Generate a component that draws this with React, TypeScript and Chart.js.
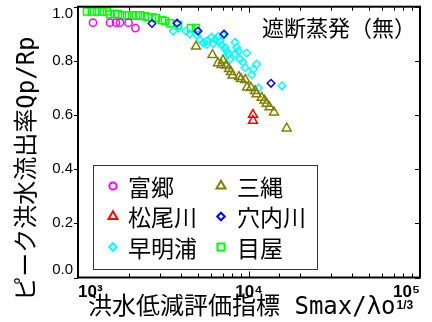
import React, { useEffect, useRef } from 'react';
import { Chart, registerables } from 'chart.js';

Chart.register(...registerables);

// ---------------- data ----------------
const seriesNames = ['富郷', '三縄', '松尾川', '穴内川', '早明浦', '目屋'];

const fugoX = [1224, 1539, 1668, 1760, 1974, 2169];
const fugoY = [0.941, 0.941, 0.941, 0.941, 0.941, 0.921];

const sanawaX = [4898, 6115, 6587, 7046, 6905, 7337, 7638, 7847, 8007, 8738, 8977, 9515, 9734, 10273, 10842, 11064, 11866, 12322, 12692, 13180, 14004, 16616];
const sanawaY = [0.853, 0.822, 0.792, 0.802, 0.785, 0.783, 0.770, 0.759, 0.746, 0.741, 0.733, 0.730, 0.702, 0.700, 0.689, 0.677, 0.664, 0.654, 0.642, 0.629, 0.610, 0.551];

const matsuoX = [10554, 10554];
const matsuoY = [0.601, 0.579];

const anaiX = [2708, 3793, 5032, 7141, 13447];
const anaiY = [0.938, 0.939, 0.910, 0.899, 0.717];

const sameuraX = [3609, 3845, 4280, 4519, 4945, 5170, 5405, 5657, 5657, 6050, 6182, 6326, 6613, 6766, 6923, 7074, 7238, 7406, 7567, 7743, 8284, 8476, 8284, 8659, 8861, 9694, 9188, 9476, 11092, 10595, 10370, 11365, 15600];
const sameuraY = [0.910, 0.921, 0.910, 0.899, 0.895, 0.877, 0.867, 0.873, 0.861, 0.888, 0.864, 0.879, 0.890, 0.873, 0.858, 0.894, 0.849, 0.836, 0.824, 0.806, 0.869, 0.849, 0.825, 0.836, 0.806, 0.829, 0.796, 0.775, 0.788, 0.769, 0.749, 0.700, 0.708];

const meyaX = [1129, 1207, 1292, 1382, 1478, 1539, 1646, 1714, 1809, 1934, 2069, 2184, 2305, 2465, 2567, 2708, 2858, 3099, 3228, 3452, 3845, 4579, 4898];
const meyaY = [0.982, 0.982, 0.982, 0.982, 0.982, 0.972, 0.974, 0.972, 0.968, 0.968, 0.968, 0.968, 0.968, 0.965, 0.961, 0.961, 0.958, 0.951, 0.947, 0.939, 0.932, 0.921, 0.921];

const seriesX = [fugoX, sanawaX, matsuoX, anaiX, sameuraX, meyaX];
const seriesY = [fugoY, sanawaY, matsuoY, anaiY, sameuraY, meyaY];

const xMin = 1000;
const xMax = 100000;
const yMin = 0;
const yMax = 1;
const yStep = 0.2;
const supDigits = ['⁰', '¹', '²', '³', '⁴', '⁵', '⁶'];

const yTitle = 'ピーク洪水流出率Qp/Rp';
const xTitle = '洪水低減評価指標 Smax/λo';
const xTitleSup = '1/3';
const noteText = '遮断蒸発（無）';

// ---------------- styles ----------------
const seriesColors = ['#ff00ff', '#808000', '#ff0000', '#0000ff', '#00ffff', '#00ff00'];
const seriesShapes = ['circle', 'triangle', 'triangle', 'rectRot', 'rectRot', 'rect'];
const seriesRadius = [3.6, 5.2, 5.2, 3.8, 3.8, 5];

const CJK = '"Noto Sans CJK JP", "Noto Sans CJK SC", sans-serif';
const MONO_CJK = '"DejaVu Sans Mono", "Noto Sans CJK JP", sans-serif';
const NUM = '"Liberation Sans Narrow", "Liberation Sans", Arial, sans-serif';

function drawMarker(ctx: CanvasRenderingContext2D, shape: string, x: number, y: number, r: number) {
  ctx.beginPath();
  if (shape === 'circle') {
    ctx.arc(x, y, r, 0, Math.PI * 2);
  } else if (shape === 'triangle') {
    ctx.moveTo(x, y - r);
    ctx.lineTo(x + r * Math.sin(Math.PI * 2 / 3), y - r * Math.cos(Math.PI * 2 / 3));
    ctx.lineTo(x + r * Math.sin(Math.PI * 4 / 3), y - r * Math.cos(Math.PI * 4 / 3));
  } else if (shape === 'rectRot') {
    ctx.moveTo(x - r, y);
    ctx.lineTo(x, y - r);
    ctx.lineTo(x + r, y);
    ctx.lineTo(x, y + r);
  } else {
    const h = r * Math.SQRT1_2;
    ctx.rect(x - h, y - h, 2 * h, 2 * h);
  }
  ctx.closePath();
  ctx.stroke();
}

const framePlugin = {
  id: 'frameTicks',
  afterDatasetsDraw(chart: any) {
    const { ctx, chartArea } = chart;
    const { left, right, top, bottom } = chartArea;
    const xs = chart.scales.x;
    const ys = chart.scales.y;
    ctx.save();
    ctx.strokeStyle = '#000';
    ctx.lineWidth = 1;
    ctx.beginPath();
    xs.ticks.forEach((t: any) => {
      const px = Math.round(xs.getPixelForValue(t.value)) + 0.5;
      const p = Math.log10(t.value);
      const major = Math.abs(p - Math.round(p)) < 1e-6;
      const len = major ? 6 : 4;
      ctx.moveTo(px, bottom);
      ctx.lineTo(px, bottom - len);
      ctx.moveTo(px, top);
      ctx.lineTo(px, top + len);
    });
    ys.ticks.forEach((t: any) => {
      const py = Math.round(ys.getPixelForValue(t.value)) + 0.5;
      ctx.moveTo(right, py);
      ctx.lineTo(right - 5, py);
      ctx.moveTo(left, py);
      ctx.lineTo(left - 4, py);
    });
    ctx.stroke();
    ctx.lineWidth = 2;
    ctx.strokeRect(left, top, right - left, bottom - top);

    // note text
    ctx.fillStyle = '#000';
    ctx.font = `22px ${CJK}`;
    ctx.textAlign = 'left';
    ctx.textBaseline = 'middle';
    ctx.fillText(noteText, 262, 28);

    // legend
    const bx = 93, by = 165, bw = 224, bh = 104;
    ctx.fillStyle = '#fff';
    ctx.fillRect(bx, by, bw, bh);
    ctx.lineWidth = 1;
    ctx.strokeStyle = '#333';
    ctx.strokeRect(bx + 0.5, by + 0.5, bw, bh);
    chart.data.datasets.forEach((ds: any, i: number) => {
      const col = i % 2;
      const row = Math.floor(i / 2);
      const mx = 113 + col * 108;
      const my = 186 + row * 30.5;
      ctx.strokeStyle = seriesColors[i];
      ctx.lineWidth = 2;
      drawMarker(ctx, seriesShapes[i], mx, my, seriesRadius[i]);
      ctx.fillStyle = '#000';
      ctx.font = `23px ${CJK}`;
      ctx.textAlign = 'left';
      ctx.textBaseline = 'middle';
      ctx.fillText(ds.label, 128 + col * 109, my + 1);
    });

    // x title superscript
    ctx.font = `24px ${MONO_CJK}`;
    const full = ctx.measureText(chart.options.scales.x.title.text).width;
    const vis = ctx.measureText(xTitle).width;
    const start = (xs.left + xs.right) / 2 - full / 2;
    ctx.font = `bold 12px ${NUM}`;
    ctx.fillStyle = '#000';
    ctx.textAlign = 'left';
    ctx.textBaseline = 'middle';
    ctx.fillText(xTitleSup, start + vis + 1, 306);
    ctx.restore();
  },
};

export default function App() {
  const ref = useRef<HTMLCanvasElement | null>(null);

  useEffect(() => {
    if (!ref.current) return;
    const datasets = seriesNames.map((name, i) => ({
      label: name,
      data: seriesX[i].map((x, j) => ({ x, y: seriesY[i][j] })),
      pointStyle: seriesShapes[i],
      pointRadius: seriesRadius[i],
      pointBorderWidth: 1.5,
      borderColor: seriesColors[i],
      pointBorderColor: seriesColors[i],
      backgroundColor: 'rgba(0,0,0,0)',
      pointBackgroundColor: 'rgba(0,0,0,0)',
      showLine: false,
    }));

    const chart = new Chart(ref.current, {
      type: 'scatter',
      data: { datasets },
      options: {
        animation: false,
        responsive: false,
        devicePixelRatio: 1,
        layout: { padding: { top: 5.5, right: 12, left: 0, bottom: 0 } },
        plugins: { legend: { display: false }, tooltip: { enabled: false } },
        scales: {
          x: {
            type: 'logarithmic',
            min: xMin,
            max: xMax,
            grid: { display: false, drawTicks: false },
            border: { display: false },
            ticks: {
              autoSkip: false,
              maxRotation: 0,
              minRotation: 0,
              align: 'inner',
              padding: 5,
              color: '#000',
              font: { family: NUM, size: 17, weight: 'bold' },
              callback: (v: any) => {
                const p = Math.log10(Number(v));
                const r = Math.round(p);
                return Math.abs(p - r) < 1e-6 ? '10' + supDigits[r] : '';
              },
            },
            title: {
              display: true,
              text: xTitle + ' ',
              color: '#000',
              font: { family: MONO_CJK, size: 24 },
              padding: { top: 0, bottom: 0 },
            },
            afterFit: (s: any) => {
              s.height = 44.5;
              s.paddingLeft = 0;
              s.paddingRight = 0;
            },
          },
          y: {
            min: yMin,
            max: yMax,
            grid: { display: false, drawTicks: false },
            border: { display: false },
            ticks: {
              stepSize: yStep,
              padding: 5,
              color: '#000',
              font: { family: NUM, size: 15, lineHeight: 1 },
              callback: (v: any) => {
                const n = Number(v);
                const s = n.toFixed(1);
                if (Math.abs(n - yMax) < 1e-9) return ['', s];
                if (Math.abs(n - yMin) < 1e-9) return [s, ''];
                return s;
              },
            },
            title: {
              display: true,
              text: yTitle + '\u3000  ',
              color: '#000',
              font: { family: MONO_CJK, size: 24 },
              padding: { top: 13, bottom: 0 },
            },
            afterFit: (s: any) => {
              s.width = 78;
              s.paddingTop = 0;
              s.paddingBottom = 0;
            },
          },
        },
      } as any,
      plugins: [framePlugin],
    });
    return () => chart.destroy();
  }, []);

  return (
    <div style={{ position: 'absolute', left: 0, top: 0, width: 432, height: 322, background: '#fff' }}>
      <canvas ref={ref} width={432} height={322} style={{ display: 'block', width: 432, height: 322 }} />
    </div>
  );
}
